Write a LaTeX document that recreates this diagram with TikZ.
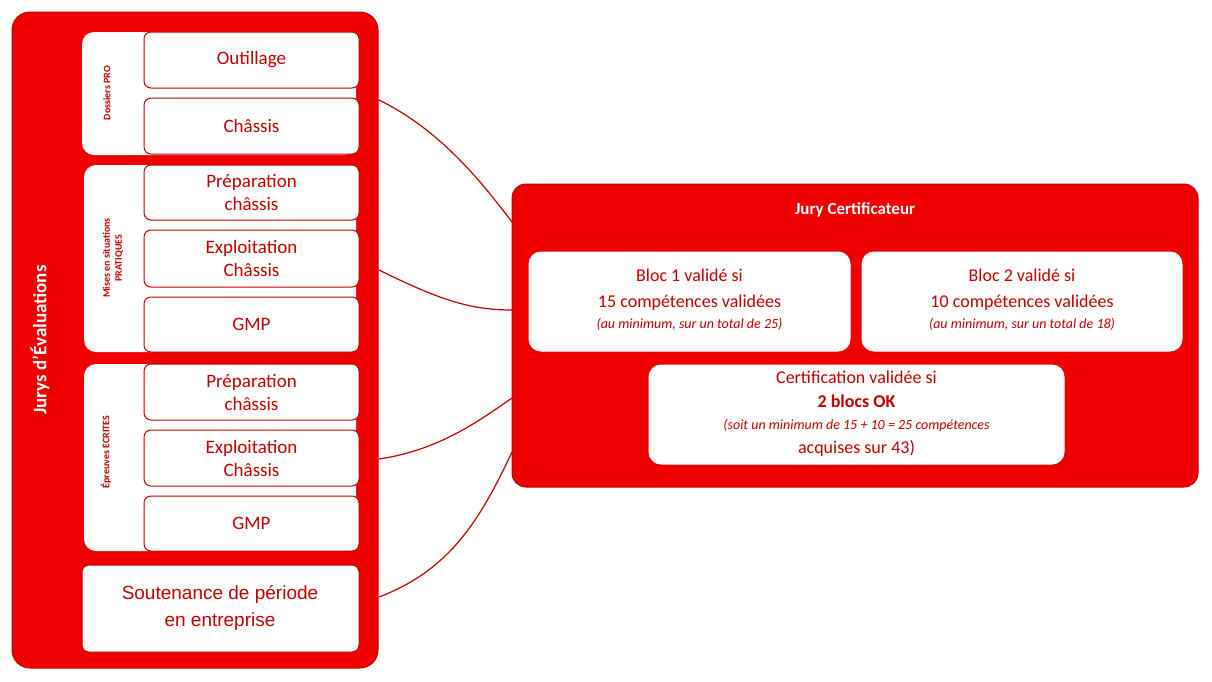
\documentclass[tikz,border=0pt]{standalone}
\usepackage{fontspec}
\setmainfont{Carlito}
\newfontfamily\arialf{Liberation Sans}
\definecolor{bred}{HTML}{EE0000}
\definecolor{dred}{HTML}{C00000}
\begin{document}
\begin{tikzpicture}[x=1pt,y=-1pt,
 item/.style={draw=dred,line width=1pt,fill=white,rounded corners=7pt},
 itxt/.style={text=dred,font=\fontsize{19}{23}\selectfont,align=center},
 side/.style={text=dred,font=\bfseries\fontsize{10}{12}\selectfont,rotate=90,align=center},
 conn/.style={draw=dred,line width=1.2pt}]
\useasboundingbox (0,0) rectangle (1212,681);
\draw[fill=bred,draw=dred,line width=1pt,rounded corners=18pt] (12,12) rectangle (378,668);
\node[text=white,font=\bfseries\fontsize{19}{23}\selectfont,rotate=90] (jt) at (40,340) {Jurys  d’Évaluations};
% groups
\fill[white,rounded corners=12pt] (82,32) rectangle (356,155);
\fill[white,rounded corners=12pt] (84,165) rectangle (356,352);
\fill[white,rounded corners=12pt] (84,364) rectangle (356,551);
\node[side] (g1) at (107,93) {Dossiers PRO};
\node[side] (g2) at (113,258) {Mises en situations\\PRATIQUES};
\node[side] (g3) at (106,452) {Épreuves ECRITES};
\foreach \n/\a/\b/\t in {i1/32/88/Outillage, i2/98/154/Châssis, i3/165/220/{Préparation\\châssis}, i4/230/287/{Exploitation\\Châssis}, i5/297/352/GMP, i6/364/420/{Préparation\\châssis}, i7/430/486/{Exploitation\\Châssis}, i8/496/551/GMP}{
 \draw[item] (144,\a) rectangle (359,\b);
 \node[itxt] (\n) at (251.5,{(\a+\b)/2}) {\t};
}
\draw[item] (82,565) rectangle (359,652);
\node[itxt,font=\arialf\fontsize{19}{27}\selectfont] (sout) at (220,608) {Soutenance de période\\en entreprise};
% right
\draw[fill=bred,draw=dred,line width=1pt,rounded corners=14pt] (512,184) rectangle (1198,487);
\node[text=white,font=\bfseries\fontsize{17}{20}\selectfont] (jc) at (855,210) {Jury Certificateur};
\draw[item,rounded corners=12pt,draw=white] (529,252) rectangle (850,351);
\node[itxt,font=\fontsize{18}{26}\selectfont] (b1) at (689.5,300) {Bloc 1 validé si\\15 compétences validées\\[-5pt]\itshape\fontsize{14}{17}\selectfont (au minimum, sur un total de 25)};
\draw[item,rounded corners=12pt,draw=white] (862,252) rectangle (1182,351);
\node[itxt,font=\fontsize{18}{26}\selectfont] (b2) at (1022,300) {Bloc 2 validé si\\10 compétences validées\\[-5pt]\itshape\fontsize{14}{17}\selectfont (au minimum, sur un total de 18)};
\draw[item,rounded corners=12pt,draw=white] (649,365) rectangle (1064,464);
\node[itxt,font=\fontsize{18}{24}\selectfont] (cv) at (856.5,414) {Certification validée si\\\textbf{2 blocs OK}\\[-2pt]\itshape\fontsize{14}{22}\selectfont (soit un minimum de 15 + 10 = 25 compétences\\acquises sur 43)};
\coordinate (r1) at (512,222);
\coordinate (r2) at (512,310);
\coordinate (r3) at (512,398);
\coordinate (r4) at (512,452);
\coordinate (l1) at (379,100);
\coordinate (l2) at (379,270);
\coordinate (l3) at (379,459);
\coordinate (l4) at (379,597);
\draw[conn] (l1) .. controls (440,130) and (480,180) .. (r1);
\draw[conn] (l2) .. controls (440,300) and (470,310) .. (r2);
\draw[conn] (l3) .. controls (440,450) and (480,420) .. (r3);
\draw[conn] (l4) .. controls (450,570) and (480,520) .. (r4);
\end{tikzpicture}
\end{document}
